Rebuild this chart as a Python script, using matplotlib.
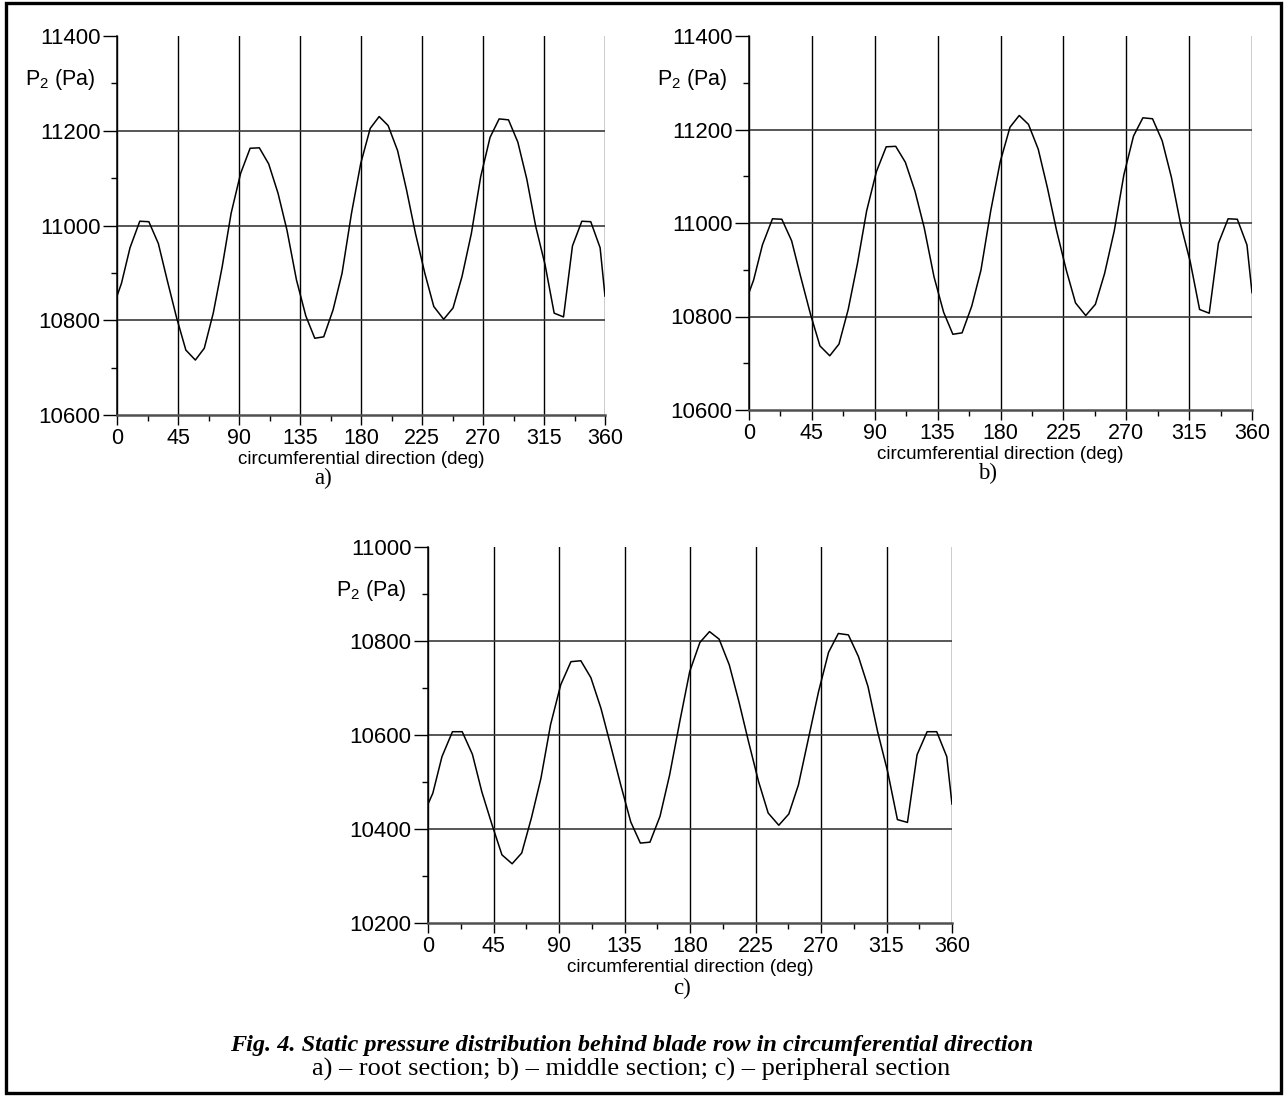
from __future__ import annotations

import matplotlib
matplotlib.use("Agg")
import matplotlib.pyplot as plt
from matplotlib.patches import Rectangle
from matplotlib.ticker import MultipleLocator

# circumferential angle of the measured points (deg)
ANGLE = [
    0, 3.3, 9.6, 16.8, 23.5, 30.5, 37, 44, 50.8, 57.8, 64.4, 71, 77.6, 84.2,
    91.2, 98.2, 105, 111.9, 118.8, 125.4, 132.4, 139.3, 145.9, 152.5, 159.4,
    166, 173, 179.8, 186.8, 193.4, 200, 207, 213.6, 220.2, 227.1, 233.7, 241,
    247.9, 254.5, 261.4, 268.3, 275.2, 281.9, 288.8, 295.7, 302.3, 308.9,
    315.8, 322.5, 329.4, 336, 342.9, 349.5, 356.4, 360,
]

# static pressure P2 (Pa), root section
P_ROOT = [
    10851, 10878, 10953, 11009, 11008, 10962, 10885, 10805, 10737, 10716,
    10741, 10815, 10913, 11026, 11110, 11163, 11164, 11130, 11068, 10990,
    10885, 10809, 10762, 10765, 10822, 10899, 11026, 11131, 11205, 11230,
    11211, 11158, 11075, 10983, 10899, 10829, 10802, 10826, 10892, 10983,
    11103, 11186, 11225, 11223, 11176, 11098, 10998, 10917, 10815, 10807,
    10957, 11009, 11008, 10953, 10851,
]

# middle section
P_MIDDLE = [
    10851, 10878, 10953, 11009, 11008, 10962, 10885, 10805, 10737, 10716,
    10741, 10815, 10913, 11026, 11110, 11163, 11164, 11130, 11068, 10990,
    10885, 10809, 10762, 10765, 10822, 10899, 11026, 11131, 11205, 11230,
    11211, 11158, 11075, 10983, 10899, 10829, 10802, 10826, 10892, 10983,
    11103, 11186, 11225, 11223, 11176, 11098, 10998, 10917, 10815, 10807,
    10957, 11009, 11008, 10953, 10851,
]

# peripheral section
P_PERIPH = [
    10453, 10476, 10554, 10607, 10607, 10559, 10479, 10409, 10345, 10326,
    10349, 10423, 10508, 10622, 10707, 10756, 10758, 10722, 10657, 10579,
    10494, 10415, 10370, 10372, 10427, 10515, 10629, 10735, 10797, 10820,
    10804, 10749, 10671, 10586, 10501, 10434, 10408, 10432, 10494, 10593,
    10692, 10776, 10816, 10813, 10767, 10703, 10607, 10522, 10420, 10414,
    10558, 10607, 10607, 10554, 10453,
]

X_TICKS = [0, 45, 90, 135, 180, 225, 270, 315, 360]
Y_RANGE_AB = (10600, 11400)
Y_RANGE_C = (10200, 11000)

XLABEL = "circumferential direction (deg)"
YLABEL = r"P$_{\mathregular{2}}$ (Pa)"
CAPTION_1 = "Fig. 4. Static pressure distribution behind blade row in circumferential direction"
CAPTION_2 = "a) \u2013 root section; b) \u2013 middle section; c) \u2013 peripheral section"

W_PX, H_PX = 1287, 1115
SANS = ["Liberation Sans", "DejaVu Sans"]
SERIF = ["Liberation Serif", "DejaVu Serif"]


def px_box(left, top, right, bottom):
    """Figure-fraction rect from pixel edges (origin top-left)."""
    return [left / W_PX, 1 - bottom / H_PX, (right - left) / W_PX, (bottom - top) / H_PX]


def draw_panel(fig, rect, angle, pressure, y_range, letter, letter_xy):
    ax = fig.add_axes(rect)
    ax.plot(angle, pressure, color="black", lw=1.1, zorder=3)

    ax.set_xlim(0, 360)
    ax.set_ylim(*y_range)
    ax.set_xticks(X_TICKS)
    ax.xaxis.set_minor_locator(MultipleLocator(22.5))
    ax.yaxis.set_major_locator(MultipleLocator(200))
    ax.yaxis.set_minor_locator(MultipleLocator(100))

    for x in X_TICKS:
        ax.axvline(x, color="black", lw=1.0, zorder=1)
    for y in range(y_range[0] + 200, y_range[1], 200):
        ax.axhline(y, color="#3a3a3a", lw=1.2, zorder=1)

    ax.spines["top"].set_visible(False)
    ax.spines["right"].set_visible(False)
    ax.spines["left"].set_linewidth(1.1)
    ax.spines["bottom"].set_color("#505050")
    ax.spines["bottom"].set_linewidth(1.8)

    ax.tick_params(axis="y", which="major", direction="out", length=10, width=1.0, pad=2, labelsize=16)
    ax.tick_params(axis="y", which="minor", direction="out", length=4.5, width=1.0)
    ax.tick_params(axis="x", which="major", direction="out", length=7, width=1.0, pad=2.5, labelsize=15.5)
    ax.tick_params(axis="x", which="minor", direction="out", length=4, width=1.0)

    ax.set_xlabel(XLABEL, fontsize=13.5, labelpad=1)
    ax.annotate(
        YLABEL, xy=(0, 0.885), xycoords="axes fraction", xytext=(-15, 0),
        textcoords="offset points", ha="right", va="center", fontsize=15.5,
    )
    fig.text(letter_xy[0] / W_PX, 1 - letter_xy[1] / H_PX, letter,
             ha="center", va="center", fontsize=16.5, family=SERIF)
    return ax


def main() -> None:
    plt.rcParams["font.family"] = SANS
    plt.rcParams["mathtext.fontset"] = "custom"
    plt.rcParams["mathtext.rm"] = "Liberation Sans"
    plt.rcParams["mathtext.it"] = "Liberation Sans:italic"

    fig = plt.figure(figsize=(W_PX / 100, H_PX / 100), dpi=100)

    draw_panel(fig, px_box(117, 36, 605, 415), ANGLE, P_ROOT, Y_RANGE_AB, "a)", (323, 478))
    draw_panel(fig, px_box(749, 36, 1252, 410), ANGLE, P_MIDDLE, Y_RANGE_AB, "b)", (988, 473))
    draw_panel(fig, px_box(428, 547, 952, 923), ANGLE, P_PERIPH, Y_RANGE_C, "c)", (682, 988))

    fig.text(632 / W_PX, 1 - 1046 / H_PX, CAPTION_1, ha="center", va="center",
             fontsize=17.5, family=SERIF, weight="bold", style="italic")
    fig.text(631 / W_PX, 1 - 1069 / H_PX, CAPTION_2, ha="center", va="center",
             fontsize=19, family=SERIF)

    # outer frame round the whole figure
    fig.patches.append(Rectangle(
        (6 / W_PX, 1 - 1093 / H_PX), 1275 / W_PX, 1090 / H_PX,
        transform=fig.transFigure, fill=False, edgecolor="black", lw=2.4,
    ))

    fig.savefig("out.png", dpi=100)
    plt.close(fig)


if __name__ == "__main__":
    main()
